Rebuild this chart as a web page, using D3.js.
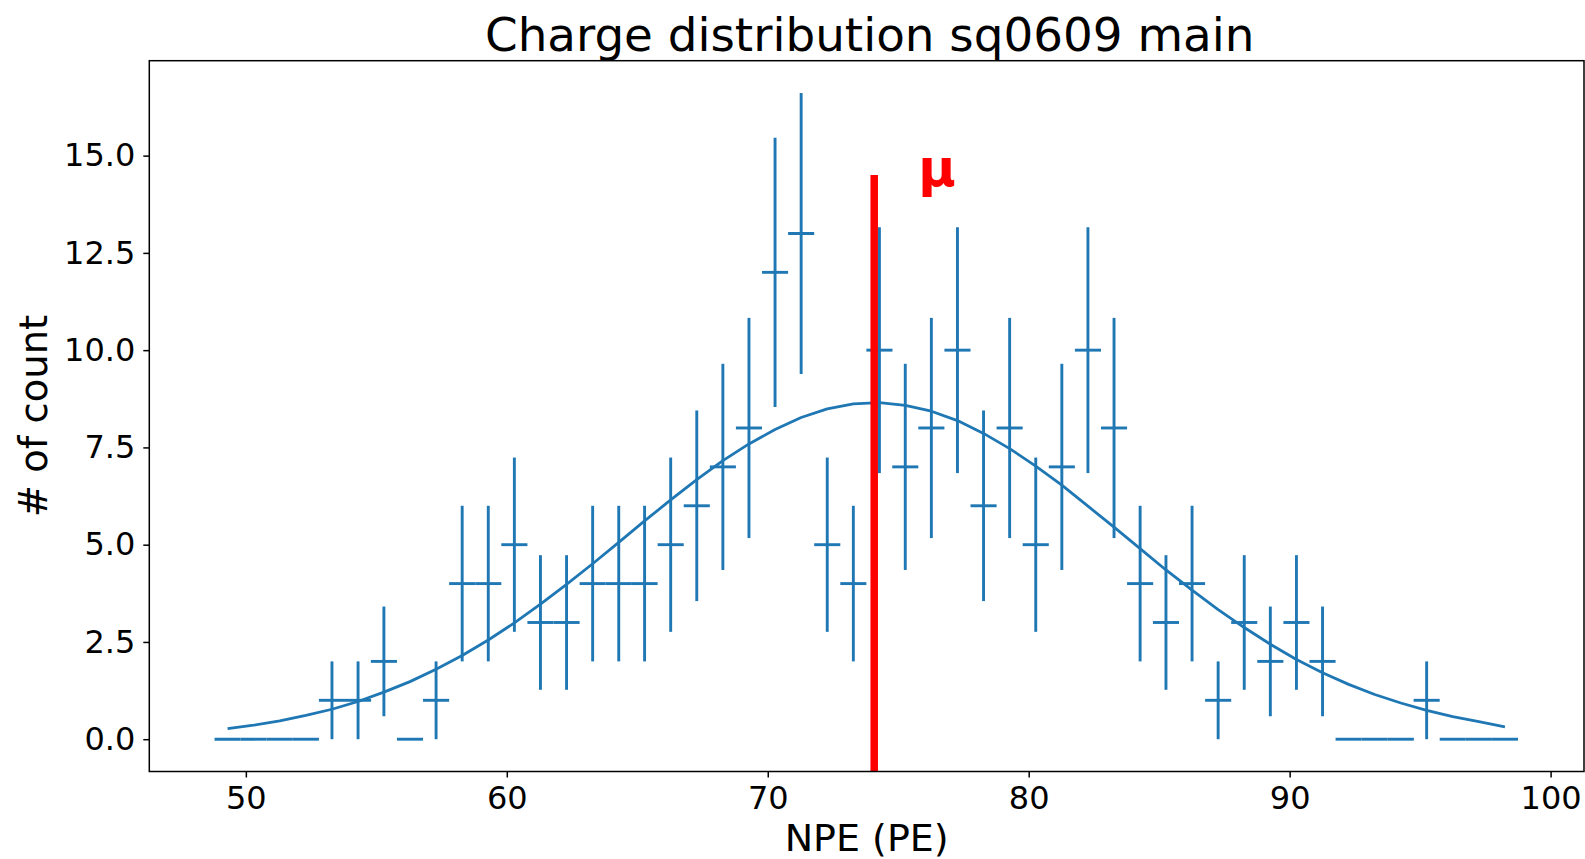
<!DOCTYPE html>
<html>
<head>
<meta charset="utf-8">
<script src="https://cdn.jsdelivr.net/npm/d3@7"></script>
<style>
  body { margin: 0; background: #fff; }
  svg { display: block; font-family: "DejaVu Sans", sans-serif; }
</style>
</head>
<body>
<svg id="chart" width="1585" height="859"></svg>
<script>
// bin centers (PE), counts, errors
var binCenters = [49.30, 50.30, 51.30, 52.30, 53.30, 54.30, 55.29, 56.29, 57.29, 58.29,
                  59.29, 60.29, 61.29, 62.29, 63.29, 64.29, 65.28, 66.28, 67.28, 68.28,
                  69.28, 70.28, 71.28, 72.28, 73.28, 74.28, 75.27, 76.27, 77.27, 78.27,
                  79.27, 80.27, 81.27, 82.27, 83.27, 84.27, 85.26, 86.26, 87.26, 88.26,
                  89.26, 90.26, 91.26, 92.26, 93.26, 94.26, 95.25, 96.25, 97.25, 98.25];
var counts = [0, 0, 0, 0, 1, 1, 2, 0, 1, 4,
              4, 5, 3, 3, 4, 4, 4, 5, 6, 7,
              8, 12, 13, 5, 4, 10, 7, 8, 10, 6,
              8, 5, 7, 10, 8, 4, 3, 4, 1, 3,
              2, 3, 2, 0, 0, 0, 1, 0, 0, 0];
var countErr = [0, 0, 0, 0, 1, 1, 1.41, 0, 1, 2,
                2, 2.24, 1.73, 1.73, 2, 2, 2, 2.24, 2.45, 2.65,
                2.83, 3.46, 3.61, 2.24, 2, 3.16, 2.65, 2.83, 3.16, 2.45,
                2.83, 2.24, 2.65, 3.16, 2.83, 2, 1.73, 2, 1, 1.73,
                1.41, 1.73, 1.41, 0, 0, 0, 1, 0, 0, 0];
var halfBin = 0.5;
// gaussian fit evaluated at bin centers
var fitValues = [0.27, 0.36, 0.47, 0.61, 0.77, 0.97, 1.21, 1.48, 1.80, 2.15,
                 2.55, 2.99, 3.47, 3.98, 4.51, 5.06, 5.61, 6.15, 6.67, 7.16,
                 7.59, 7.96, 8.27, 8.49, 8.62, 8.65, 8.58, 8.43, 8.19, 7.86,
                 7.47, 7.02, 6.53, 5.99, 5.45, 4.90, 4.35, 3.83, 3.33, 2.87,
                 2.44, 2.05, 1.71, 1.41, 1.15, 0.93, 0.74, 0.58, 0.45, 0.32];
var muValue = 74.08;
var muTop = 14.5;
var xTicks = [50, 60, 70, 80, 90, 100];
var yTicks = [0, 2.5, 5, 7.5, 10, 12.5, 15];

var plotLeft = 149.3, plotRight = 1584, plotTop = 60.7, plotBottom = 771.5;
var svg = d3.select('#chart');

var x = d3.scaleLinear().domain([46.30, 101.28]).range([plotLeft, plotRight]);
var y = d3.scaleLinear().domain([-0.83, 17.44]).range([plotBottom, plotTop]);

var blue = '#1f77b4';

svg.append('clipPath').attr('id', 'plotClip')
  .append('rect')
  .attr('x', plotLeft).attr('y', plotTop)
  .attr('width', plotRight - plotLeft).attr('height', plotBottom - plotTop);

var plot = svg.append('g').attr('clip-path', 'url(#plotClip)');

// error bars
var bars = plot.append('g').selectAll('g')
  .data(binCenters.map(function(c, i) { return {c: c, n: counts[i], e: countErr[i]}; }))
  .enter().append('g');

bars.append('line')
  .attr('x1', function(d) { return x(d.c - halfBin); })
  .attr('x2', function(d) { return x(d.c + halfBin); })
  .attr('y1', function(d) { return y(d.n); })
  .attr('y2', function(d) { return y(d.n); })
  .attr('stroke', blue).attr('stroke-width', 2.9);

bars.filter(function(d) { return d.e > 0; })
  .append('line')
  .attr('x1', function(d) { return x(d.c); })
  .attr('x2', function(d) { return x(d.c); })
  .attr('y1', function(d) { return y(d.n - d.e); })
  .attr('y2', function(d) { return y(d.n + d.e); })
  .attr('stroke', blue).attr('stroke-width', 2.9);

// fit curve
var fitLine = d3.line()
  .x(function(d) { return x(d[0]); })
  .y(function(d) { return y(d[1]); });

plot.append('path')
  .datum(binCenters.map(function(c, i) { return [c, fitValues[i]]; }))
  .attr('d', fitLine)
  .attr('fill', 'none')
  .attr('stroke', blue)
  .attr('stroke-width', 2.8)
  .attr('stroke-linejoin', 'round');

// mean line
plot.append('line')
  .attr('x1', x(muValue)).attr('x2', x(muValue))
  .attr('y1', y(-0.83)).attr('y2', y(muTop))
  .attr('stroke', '#ff0000').attr('stroke-width', 7.5);

svg.append('text')
  .attr('x', x(muValue) + 44).attr('y', 186)
  .attr('fill', '#ff0000')
  .attr('font-weight', 'bold')
  .attr('font-size', 51)
  .text('μ');

// axes
var xAxis = svg.append('g')
  .attr('transform', 'translate(0,' + plotBottom + ')')
  .call(d3.axisBottom(x).tickValues(xTicks).tickSize(6).tickPadding(9).tickSizeOuter(0));
var yAxis = svg.append('g')
  .attr('transform', 'translate(' + plotLeft + ',0)')
  .call(d3.axisLeft(y).tickValues(yTicks).tickFormat(d3.format('.1f')).tickSize(6).tickPadding(8).tickSizeOuter(0));

[xAxis, yAxis].forEach(function(a) {
  a.select('.domain').remove();
  a.selectAll('line').attr('stroke', '#000').attr('stroke-width', 1.5);
  a.selectAll('text').attr('font-size', 32).attr('fill', '#000')
    .attr('font-family', '"DejaVu Sans", sans-serif');
});

// spines
svg.append('rect')
  .attr('x', plotLeft).attr('y', plotTop)
  .attr('width', plotRight - plotLeft).attr('height', plotBottom - plotTop)
  .attr('fill', 'none').attr('stroke', '#000').attr('stroke-width', 1.5);

// labels
svg.append('text')
  .attr('x', (plotLeft + plotRight) / 2 + 3).attr('y', 51)
  .attr('text-anchor', 'middle').attr('font-size', 46.8)
  .text('Charge distribution sq0609 main');

svg.append('text')
  .attr('x', (plotLeft + plotRight) / 2).attr('y', 851)
  .attr('text-anchor', 'middle').attr('font-size', 38)
  .text('NPE (PE)');

svg.append('text')
  .attr('transform', 'translate(47,' + ((plotTop + plotBottom) / 2) + ') rotate(-90)')
  .attr('text-anchor', 'middle').attr('font-size', 38.5)
  .text('# of count');
</script>
</body>
</html>
